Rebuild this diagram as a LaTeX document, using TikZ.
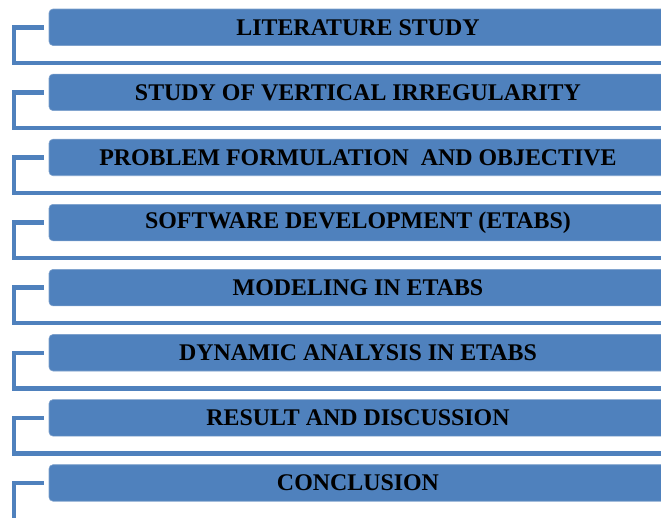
\documentclass[tikz,border=0pt]{standalone}
\usepackage{fontspec}
\setmainfont{Liberation Serif}
\usetikzlibrary{positioning}
\definecolor{OB-blue}{HTML}{4F81BD}
\definecolor{OB-edge}{HTML}{7EA1CC}

\begin{document}
\begin{tikzpicture}[x=1pt,y=1pt]
  \useasboundingbox (0,0) rectangle (661,-517);
  \tikzset{
    stage/.style={fill=OB-blue,draw=OB-edge,line width=0.6pt,rounded corners=4pt,
      minimum width=618pt,minimum height=36.5pt,inner sep=0pt,
      font=\fontsize{23.9}{28}\selectfont\bfseries},
    bracket/.style={draw=OB-blue,line width=4.5pt,line join=miter}
  }
  \node[stage] (Lit) at (358,-27.25) {LITERATURE STUDY};
  \node[stage,below=28pt of Lit] (Irr) {STUDY OF VERTICAL IRREGULARITY};
  \node[stage,below=28pt of Irr] (Prob) {PROBLEM FORMULATION~~AND OBJECTIVE};
  \node[stage,below=28pt of Prob] (Soft) {SOFTWARE DEVELOPMENT (ETABS)};
  \node[stage,below=28pt of Soft] (Model) {MODELING IN ETABS};
  \node[stage,below=28pt of Model] (Dyn) {DYNAMIC ANALYSIS IN ETABS};
  \node[stage,below=28pt of Dyn] (Res) {RESULT AND DISCUSSION};
  \node[stage,below=28pt of Res] (Conc) {CONCLUSION};

  \draw[bracket] ([xshift=-5pt]Lit.west) -- ++(-29.5,0) |- ([xshift=10pt,yshift=-17pt]Lit.south east);
  \draw[bracket] ([xshift=-5pt]Irr.west) -- ++(-29.5,0) |- ([xshift=10pt,yshift=-17pt]Irr.south east);
  \draw[bracket] ([xshift=-5pt]Prob.west) -- ++(-29.5,0) |- ([xshift=10pt,yshift=-17pt]Prob.south east);
  \draw[bracket] ([xshift=-5pt]Soft.west) -- ++(-29.5,0) |- ([xshift=10pt,yshift=-17pt]Soft.south east);
  \draw[bracket] ([xshift=-5pt]Model.west) -- ++(-29.5,0) |- ([xshift=10pt,yshift=-17pt]Model.south east);
  \draw[bracket] ([xshift=-5pt]Dyn.west) -- ++(-29.5,0) |- ([xshift=10pt,yshift=-17pt]Dyn.south east);
  \draw[bracket] ([xshift=-5pt]Res.west) -- ++(-29.5,0) |- ([xshift=10pt,yshift=-17pt]Res.south east);
  \draw[bracket] ([xshift=-5pt]Conc.west) -- ++(-29.5,0) -- ++(0,-45);
\end{tikzpicture}
\end{document}
